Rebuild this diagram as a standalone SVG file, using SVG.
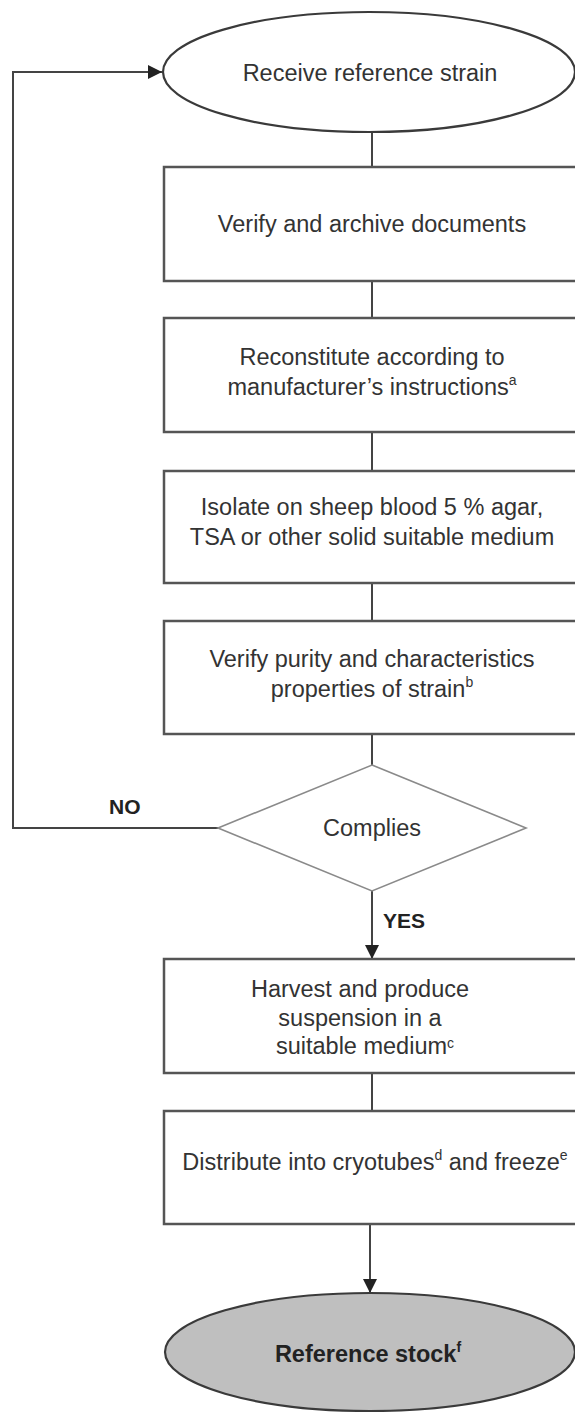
<svg xmlns="http://www.w3.org/2000/svg" width="575" height="1412" viewBox="0 0 575 1412">
<style>
.box{fill:#fff;stroke:#555;stroke-width:2.5}
.ell{stroke:#3a3a3a;stroke-width:2.2}
.dia{fill:#fff;stroke:#8a8a8a;stroke-width:1.6}
.con{fill:none;stroke:#444;stroke-width:2}
text{font-family:"Liberation Sans",Arial,sans-serif;font-size:23.5px;fill:#333;text-anchor:middle}
.b{font-weight:bold;font-size:21px;fill:#222}
.big{font-size:23.5px}
.lbl{text-anchor:start}
.sup{font-size:14px}
</style>
<defs>
<marker id="arr" viewBox="0 0 14 14" refX="14" refY="7" markerWidth="14" markerHeight="14" markerUnits="userSpaceOnUse" orient="auto">
<path d="M0,0 L14,7 L0,14 Z" fill="#222"/>
</marker>
</defs>
<rect width="575" height="1412" fill="#fff"/>
<g id="connectors">
<polyline class="con" points="218,828 13,828 13,72 162,72" marker-end="url(#arr)"/>
<line class="con" x1="372" y1="132" x2="372" y2="167"/>
<line class="con" x1="372" y1="281" x2="372" y2="318"/>
<line class="con" x1="372" y1="432" x2="372" y2="471"/>
<line class="con" x1="372" y1="583" x2="372" y2="621"/>
<line class="con" x1="372" y1="734" x2="372" y2="765"/>
<line class="con" x1="372" y1="891" x2="372" y2="959" marker-end="url(#arr)"/>
<line class="con" x1="372" y1="1073" x2="372" y2="1111"/>
<line class="con" x1="370" y1="1224" x2="370" y2="1293" marker-end="url(#arr)"/>
<text class="b lbl" x="109" y="814">NO</text>
<text class="b lbl" x="383" y="928">YES</text>
</g>
<g id="n_receive">
<ellipse class="ell" cx="369" cy="72" rx="206" ry="60" fill="#fff"/>
<text x="370" y="81">Receive reference strain</text>
</g>
<g id="n_verify_docs">
<rect class="box" x="164" y="167" width="420" height="114"/>
<text x="372" y="232">Verify and archive documents</text>
</g>
<g id="n_reconstitute">
<rect class="box" x="164" y="318" width="420" height="114"/>
<text x="372" y="365">Reconstitute according to</text>
<text x="372" y="395">manufacturer’s instructions<tspan class="sup" dy="-10">a</tspan></text>
</g>
<g id="n_isolate">
<rect class="box" x="164" y="471" width="420" height="112"/>
<text x="372" y="515">Isolate on sheep blood 5 % agar,</text>
<text x="372" y="545">TSA or other solid suitable medium</text>
</g>
<g id="n_purity">
<rect class="box" x="164" y="621" width="420" height="113"/>
<text x="372" y="667">Verify purity and characteristics</text>
<text x="372" y="697">properties of strain<tspan class="sup" dy="-10">b</tspan></text>
</g>
<g id="n_complies">
<polygon class="dia" points="372,765 526,828 372,891 218,828"/>
<text x="372" y="836">Complies</text>
</g>
<g id="n_harvest">
<rect class="box" x="164" y="959" width="420" height="114"/>
<text x="360" y="997">Harvest and produce</text>
<text x="360" y="1026">suspension in a</text>
<text x="365" y="1054">suitable medium<tspan class="sup" dy="-6">c</tspan></text>
</g>
<g id="n_distribute">
<rect class="box" x="164" y="1111" width="420" height="113"/>
<text x="375" y="1170">Distribute into cryotubes<tspan class="sup" dy="-10">d</tspan><tspan dy="10"> and freeze</tspan><tspan class="sup" dy="-10">e</tspan></text>
</g>
<g id="n_stock">
<ellipse class="ell" cx="370" cy="1352" rx="205" ry="59" fill="#bfbfbf"/>
<text class="b big" x="368" y="1362">Reference stock<tspan class="sup" dy="-10">f</tspan></text>
</g>
</svg>
